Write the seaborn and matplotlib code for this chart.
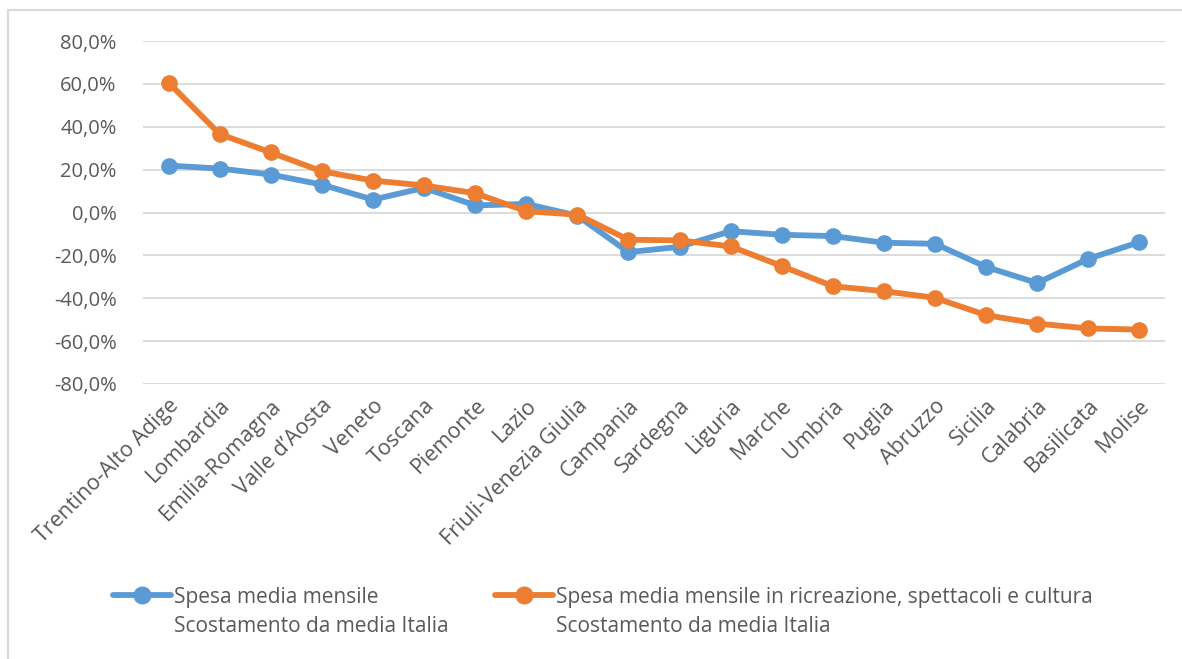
import pandas as pd
import matplotlib.pyplot as plt
import matplotlib.patches as mpatches
from matplotlib.ticker import FuncFormatter
import seaborn as sns

# Regions, ordered as in the chart
regioni = ["Trentino-Alto Adige", "Lombardia", "Emilia-Romagna", "Valle d\u2019Aosta", "Veneto",
           "Toscana", "Piemonte", "Lazio", "Friuli-Venezia Giulia", "Campania", "Sardegna",
           "Liguria", "Marche", "Umbria", "Puglia", "Abruzzo", "Sicilia", "Calabria",
           "Basilicata", "Molise"]

# Scostamento da media Italia (%)
spesa_totale = [21.9, 20.5, 17.7, 13.0, 6.0, 11.5, 3.3, 4.0, -1.5, -18.5, -16.0,
                -8.7, -10.4, -11.0, -14.1, -14.6, -25.4, -32.9, -21.6, -13.8]
spesa_cultura = [60.6, 36.6, 28.0, 19.2, 14.9, 12.6, 9.0, 0.6, -1.0, -12.7, -13.0,
                 -15.8, -25.0, -34.4, -36.7, -39.8, -47.9, -51.8, -54.1, -54.6]

serie = ["Spesa media mensile", "Spesa media mensile in ricreazione, spettacoli e cultura"]
sottotitolo = "Scostamento da media Italia"
colori = ["#5b9bd5", "#ed7d31"]

df = pd.DataFrame({
    "Regione": regioni * 2,
    "Valore": spesa_totale + spesa_cultura,
    "Serie": [serie[0]] * len(regioni) + [serie[1]] * len(regioni),
})
df["pos"] = list(range(len(regioni))) * 2

sns.set_style("white")
plt.rcParams["font.family"] = ["Open Sans", "DejaVu Sans"]

W, H = 1182, 659
fig = plt.figure(figsize=(W / 100, H / 100), dpi=100)
ax = fig.add_axes([143 / W, 1 - 384 / H, (1165 - 143) / W, (384 - 41) / H])

# chart frame
fig.patches.append(mpatches.Rectangle((8 / W, -0.05), 1.1, 1 - 10 / H + 0.05,
                                      transform=fig.transFigure, fill=False,
                                      edgecolor="#d9d9d9", linewidth=1.5))

sns.lineplot(data=df, x="pos", y="Valore", hue="Serie", palette=colori,
             marker="o", markersize=12, markeredgewidth=0, linewidth=4.2, ax=ax,
             legend=False)

ax.set_ylim(-80, 80)
ax.set_xlim(-0.5, len(regioni) - 0.5)
ax.set_yticks(range(-80, 81, 20))
ax.yaxis.set_major_formatter(FuncFormatter(lambda v, p: f"{v:.1f}%".replace(".", ",")))
ax.grid(axis="y", color="#d9d9d9", linewidth=1.3)
ax.set_axisbelow(True)
for s in ax.spines.values():
    s.set_visible(False)
ax.set_xticks(range(len(regioni)))
ax.set_xticklabels(regioni, rotation=45, ha="right", rotation_mode="anchor")
ax.tick_params(axis="both", length=0, labelcolor="#595959")
ax.tick_params(axis="x", pad=8, labelsize=15.5)
ax.tick_params(axis="y", pad=19, labelsize=14.5)
ax.set_xlabel("")
ax.set_ylabel("")

# legend: one entry per series, second line of each label added below
legende = []
for c, lab, x0 in zip(colori, serie, [113, 495]):
    h = plt.Line2D([], [], color=c, marker="o", markersize=12, linewidth=4.2)
    leg = fig.legend([h], [lab], loc="center left", bbox_to_anchor=(x0 / W, 1 - 597 / H),
                     frameon=False, fontsize=15, handlelength=2.8, handletextpad=0.15,
                     borderpad=0, borderaxespad=0, labelcolor="#595959")
    legende.append(leg)

fig.canvas.draw()
for leg in legende:
    bb = leg.get_texts()[0].get_window_extent()
    fig.text(bb.x0 / W, 1 - 627 / H, sottotitolo, fontsize=15, color="#595959",
             va="center", ha="left")

fig.savefig("out.png", dpi=100, facecolor="white")
